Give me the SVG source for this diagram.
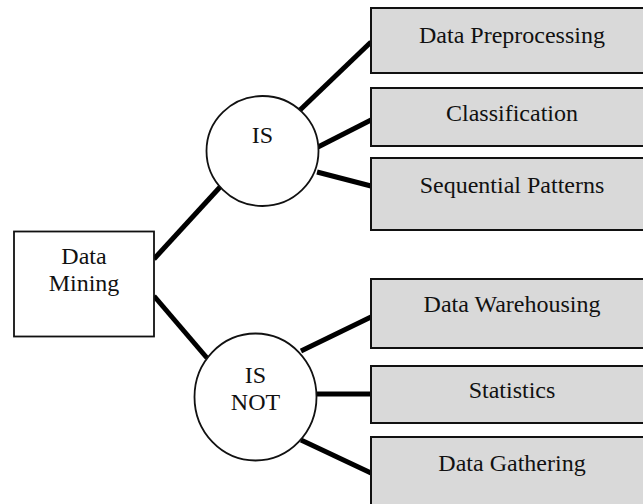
<svg xmlns="http://www.w3.org/2000/svg" width="643" height="504" viewBox="0 0 643 504">
<style>
text{font-family:"Liberation Serif","Times New Roman",serif;font-size:24px;fill:#111;text-anchor:middle}
.box{fill:#d9d9d9;stroke:#111;stroke-width:2}
.root{fill:#fff;stroke:#111;stroke-width:1.8}
.circ{fill:#fff;stroke:#111;stroke-width:1.8}
.conn line{stroke:#000;stroke-width:5;stroke-linecap:butt}
</style>
<rect width="643" height="504" fill="#fff"/>
<g id="connectors" class="conn">
<line x1="154" y1="259" x2="221" y2="186"/>
<line x1="154" y1="296" x2="207" y2="358"/>
<line x1="300" y1="110" x2="371" y2="42"/>
<line x1="318" y1="147" x2="371" y2="120"/>
<line x1="317" y1="172" x2="371" y2="186"/>
<line x1="301" y1="351" x2="371" y2="317"/>
<line x1="317" y1="394" x2="371" y2="394"/>
<line x1="301" y1="440" x2="371" y2="473"/>
</g>
<g id="data-mining">
<rect class="root" x="14" y="231.5" width="140" height="105"/>
<text x="84" y="264">Data</text>
<text x="84" y="291">Mining</text>
</g>
<g id="is">
<ellipse class="circ" cx="262.5" cy="151" rx="56" ry="55"/>
<text x="262.5" y="143">IS</text>
</g>
<g id="is-not">
<ellipse class="circ" cx="255.5" cy="397" rx="61" ry="63.5"/>
<text x="255.5" y="383">IS</text>
<text x="255.5" y="410">NOT</text>
</g>
<g id="data-preprocessing">
<rect class="box" x="371" y="8" width="300" height="65"/>
<text x="512" y="43">Data Preprocessing</text>
</g>
<g id="classification">
<rect class="box" x="371" y="88" width="300" height="58"/>
<text x="512" y="121">Classification</text>
</g>
<g id="sequential-patterns">
<rect class="box" x="371" y="158" width="300" height="72"/>
<text x="512" y="193">Sequential Patterns</text>
</g>
<g id="data-warehousing">
<rect class="box" x="371" y="279" width="300" height="69"/>
<text x="512" y="312">Data Warehousing</text>
</g>
<g id="statistics">
<rect class="box" x="371" y="366" width="300" height="57"/>
<text x="512" y="398">Statistics</text>
</g>
<g id="data-gathering">
<rect class="box" x="371" y="437" width="300" height="100"/>
<text x="512" y="471">Data Gathering</text>
</g>
</svg>
